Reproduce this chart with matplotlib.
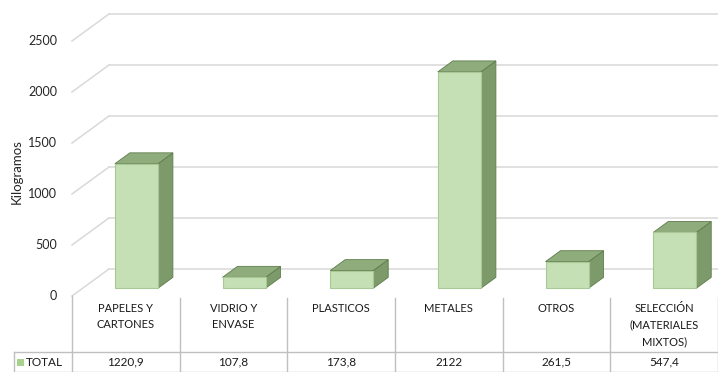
import matplotlib.pyplot as plt
from matplotlib.patches import Polygon, Rectangle

categories = ["PAPELES Y\nCARTONES", "VIDRIO Y\nENVASE", "PLASTICOS",
              "METALES", "OTROS", "SELECCIÓN\n(MATERIALES\nMIXTOS)"]
totals = [1220.9, 107.8, 173.8, 2122, 261.5, 547.4]
total_labels = ["1220,9", "107,8", "173,8", "2122", "261,5", "547,4"]
y_ticks = [0, 500, 1000, 1500, 2000, 2500]
series_name = "TOTAL"

plt.rcParams['font.family'] = ['Lato', 'DejaVu Sans']

W, H = 718, 372
fig = plt.figure(figsize=(W / 100, H / 100), dpi=100)
ax = fig.add_axes([0, 0, 1, 1])
ax.axis("off")

# pixel geometry of the pseudo-3D frame
col_w = (W - 72) / 6          # px per category on the front plane
px_per_unit = 0.102           # px per kilogram
zero_px = 296                 # front-plane zero, from top
ax.set_xlim(-0.5 - 72 / col_w, -0.5 + (W - 72) / col_w)
ax.set_ylim(-(H - zero_px) / px_per_unit, zero_px / px_per_unit)

DX = 37 / col_w               # full depth of the floor
DY = 27 / px_per_unit
f0, f1 = 0.285, 0.69          # front and back of the columns inside the depth
bar_w = 0.4

grid_col = "#D9D9D9"
text_col = "#262626"
x_right = ax.get_xlim()[1]
for v in y_ticks:
    ax.plot([-0.5, -0.5 + DX], [v, v + DY], color=grid_col, lw=1.1, zorder=1)
    ax.plot([-0.5 + DX, x_right], [v + DY, v + DY], color=grid_col, lw=1.1,
            zorder=1)
    ax.text(-0.5 - 15 / col_w, v, str(v), ha="right", va="center",
            fontsize=9, color=text_col)

front = "#C5E0B4"
side = "#7C9A6A"
top = "#8FAC7D"
edge = "#5E7D4B"
xs = [i + f0 * DX for i in range(len(totals))]
base = f0 * DY
ax.bar(xs, totals, width=bar_w, bottom=base, color=front,
       edgecolor="#A8C995", lw=0.8, zorder=3)
dx = (f1 - f0) * DX
dy = (f1 - f0) * DY
for x, v in zip(xs, totals):
    xl, xr = x - bar_w / 2, x + bar_w / 2
    yt = base + v
    ax.add_patch(Polygon([(xr, base), (xr + dx, base + dy),
                          (xr + dx, yt + dy), (xr, yt)],
                         facecolor=side, edgecolor=edge, lw=0.6, zorder=2))
    ax.add_patch(Polygon([(xl, yt), (xr, yt), (xr + dx, yt + dy),
                          (xl + dx, yt + dy)],
                         facecolor=top, edgecolor=edge, lw=0.6, zorder=2))

fig.text(17 / W, 1 - 172 / H, "Kilogramos", rotation=90, ha="center",
         va="center", fontsize=9.5, color=text_col)


# data table below the plot, in pixel coordinates
def px(x, y):
    return x / W, 1 - y / H


line_col = "#BFBFBF"
row_y = 352
bottom_y = 371.5
for i in range(7):
    x = 72 + i * col_w
    y0 = 296 if i == 0 else 298
    fig.add_artist(plt.Line2D(*zip(px(x, y0), px(x, bottom_y)),
                              color=line_col, lw=1))
fig.add_artist(plt.Line2D(*zip(px(14, row_y), px(14, bottom_y)),
                          color=line_col, lw=1))
for y in (row_y, bottom_y):
    fig.add_artist(plt.Line2D(*zip(px(14, y), px(W, y)),
                              color=line_col, lw=1))

for i, (cat, lab) in enumerate(zip(categories, total_labels)):
    cx = 72 + (i + 0.5) * col_w
    fig.text(*px(cx, 303), cat, ha="center", va="top", fontsize=8,
             linespacing=1.6, color="#1a1a1a")
    fig.text(*px(cx, 362), lab, ha="center", va="center", fontsize=8.5,
             color="#1a1a1a")

fig.add_artist(Rectangle(px(17, 366), 7 / W, 7 / H, facecolor="#A9D18E",
                         edgecolor="none"))
fig.text(*px(26, 362), series_name, ha="left", va="center", fontsize=8.5,
         color="#1a1a1a")

fig.savefig("out.png", dpi=100)
